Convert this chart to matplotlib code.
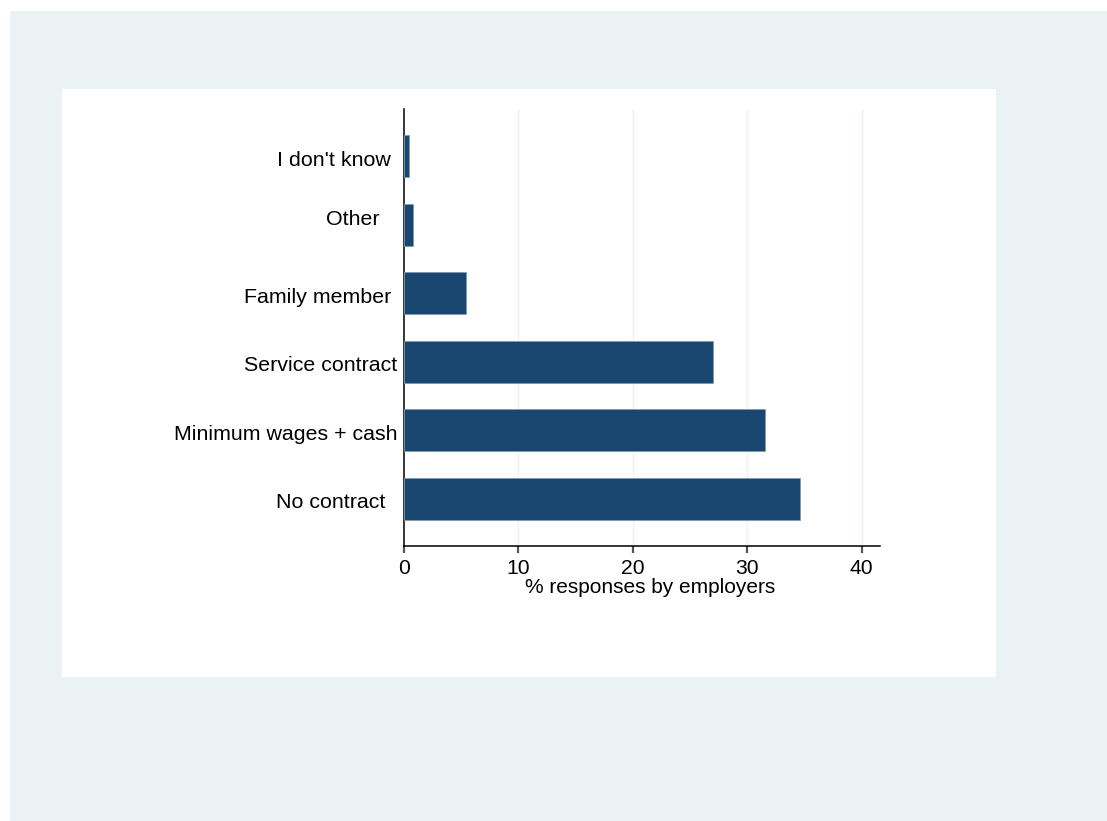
import matplotlib.pyplot as plt
from matplotlib.patches import Rectangle
from matplotlib.transforms import ScaledTranslation

plt.rcParams['font.family'] = ['Liberation Sans', 'DejaVu Sans']

categories = ['No contract  ', 'Minimum wages + cash', 'Service contract',
              'Family member ', 'Other   ', "I don't know "]
shares = [34.6, 31.6, 27.05, 5.4, 0.8, 0.45]
x_ticks = [0, 10, 20, 30, 40]

bar_color = '#1A476F'
graph_bg = '#EAF2F3'

fig = plt.figure(figsize=(11.07, 8.21), dpi=100, facecolor='white')
fig.patches.append(Rectangle((0.00903, 0), 0.991, 0.9866, transform=fig.transFigure,
                             facecolor=graph_bg, edgecolor='none', zorder=-2))
fig.patches.append(Rectangle((0.056, 0.1754), 0.8437, 0.7162, transform=fig.transFigure,
                             facecolor='white', edgecolor='none', zorder=-1))

ax = fig.add_axes([0.3647, 0.335, 0.4302, 0.5322])
ax.patch.set_alpha(0)
pos = list(range(len(categories)))
ax.barh(pos, shares, height=0.613, color=bar_color, edgecolor='#7F9AB3',
        linewidth=0.6, zorder=3)

ax.set_xlim(0, 41.6)
ax.set_ylim(-0.69, 5.69)
ax.set_yticks(pos)
ax.set_yticklabels(categories, fontsize=15.4)
ax.tick_params(axis='y', length=0, pad=4.8)
# Stata places the labels slightly off the bar centres
for lab in ax.get_yticklabels():
    dy = 7 if lab.get_text().strip() == 'Other' else -2
    lab.set_transform(lab.get_transform() + ScaledTranslation(0, dy / 100, fig.dpi_scale_trans))

ax.set_xticks(x_ticks)
ax.set_xticklabels([str(t) for t in x_ticks], fontsize=15.2)
ax.tick_params(axis='x', length=5, width=1.6, color='#555555', pad=4.5)

for t in x_ticks[1:]:
    ax.axvline(t, color='#EDF3F4', linewidth=1.0, zorder=1)

for side in ['top', 'right']:
    ax.spines[side].set_visible(False)
for side in ['left', 'bottom']:
    ax.spines[side].set_linewidth(1.1)
    ax.spines[side].set_color('black')

ax.set_xlabel('% responses by employers', fontsize=15)
ax.xaxis.set_label_coords(0.517, -0.074)

fig.savefig('out.png', dpi=100, facecolor=fig.get_facecolor())
